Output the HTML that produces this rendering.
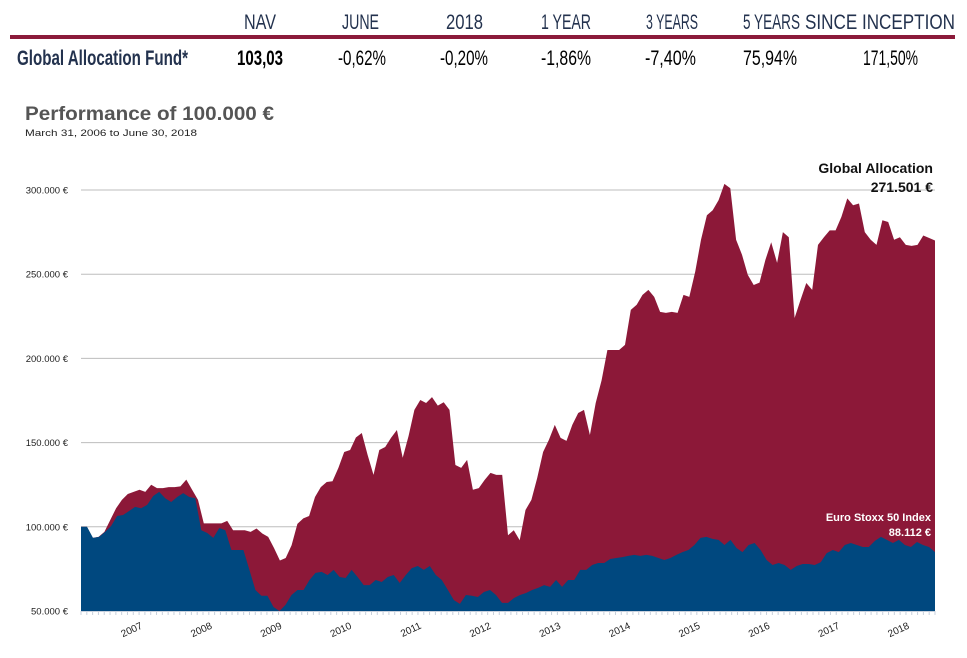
<!DOCTYPE html>
<html><head><meta charset="utf-8"><style>html,body{margin:0;padding:0;background:#fff}svg{display:block}</style></head>
<body>
<svg id="c" width="967" height="658" viewBox="0 0 967 658" xmlns="http://www.w3.org/2000/svg" font-family="'Liberation Sans', sans-serif">
<g fill="#23324e" font-size="21">
  <text x="244" y="29" textLength="32" lengthAdjust="spacingAndGlyphs">NAV</text>
  <text x="342" y="29" textLength="37" lengthAdjust="spacingAndGlyphs">JUNE</text>
  <text x="446" y="29" textLength="37" lengthAdjust="spacingAndGlyphs">2018</text>
  <text x="541" y="29" textLength="50" lengthAdjust="spacingAndGlyphs">1 YEAR</text>
  <text x="646" y="29" textLength="52" lengthAdjust="spacingAndGlyphs">3 YEARS</text>
  <text x="743" y="29" textLength="57" lengthAdjust="spacingAndGlyphs">5 YEARS</text>
  <text x="805" y="29" textLength="150" lengthAdjust="spacingAndGlyphs">SINCE INCEPTION</text>
  <rect x="10" y="35" width="945" height="4" fill="#8b1a3a"/>
  <text x="17" y="65" textLength="171" lengthAdjust="spacingAndGlyphs" font-weight="bold">Global Allocation Fund*</text>
  <text x="237" y="65" textLength="46" lengthAdjust="spacingAndGlyphs" font-weight="bold" fill="#000">103,03</text>
  <text x="338" y="65" textLength="48" lengthAdjust="spacingAndGlyphs" fill="#000">-0,62%</text>
  <text x="440" y="65" textLength="48" lengthAdjust="spacingAndGlyphs" fill="#000">-0,20%</text>
  <text x="541" y="65" textLength="50" lengthAdjust="spacingAndGlyphs" fill="#000">-1,86%</text>
  <text x="645" y="65" textLength="51" lengthAdjust="spacingAndGlyphs" fill="#000">-7,40%</text>
  <text x="743" y="65" textLength="54" lengthAdjust="spacingAndGlyphs" fill="#000">75,94%</text>
  <text x="863" y="65" textLength="55" lengthAdjust="spacingAndGlyphs" fill="#000">171,50%</text>
</g>
<text x="25" y="120" font-size="19" font-weight="bold" fill="#555" textLength="249" lengthAdjust="spacingAndGlyphs">Performance of 100.000 €</text>
<text x="25" y="136" font-size="9.5" fill="#222" textLength="172" lengthAdjust="spacingAndGlyphs">March 31, 2006 to June 30, 2018</text>
<g id="plot"></g>
<text x="933" y="173" font-size="14" font-weight="bold" fill="#111" text-anchor="end">Global Allocation</text>
<text x="933" y="192" font-size="14" font-weight="bold" fill="#111" text-anchor="end">271.501 €</text>
<text x="931" y="521" font-size="11" font-weight="bold" fill="#fff" text-anchor="end">Euro Stoxx 50 Index</text>
<text x="931" y="536" font-size="11" font-weight="bold" fill="#fff" text-anchor="end">88.112 €</text>
</svg>
<script>
const yTicks = [50, 100, 150, 200, 250, 300];
const yTickLabels = ["50.000 €","100.000 €","150.000 €","200.000 €","250.000 €","300.000 €"];
const years = [2007,2008,2009,2010,2011,2012,2013,2014,2015,2016,2017,2018];
const startYear = 2006 + 2/12, endYear = 2018 + 5/12;
const fundValues = [100,100,93.4,94,97,104,111,116,119.5,120.7,122,120.7,125,123,123,123.6,123.6,124,128,122,116,102,102,102,102,103.5,98,98,98,97,99,96,94,87.4,80,81.5,89,101.7,105,106.4,117.7,123.6,126.6,127,135,144.4,145.6,153,155.7,142.7,130.8,145.6,147.4,152.8,157.5,141,154,169.4,175.3,173.5,177,172,174,169.4,136.7,135,139.7,122,123,127.8,132,130.8,130.8,95,98,92,110,116,129,144.4,151.6,160.5,152.8,151,160.5,167.6,169.4,154.5,173.5,187,205,205,205,208,228.8,231.8,237.7,240.7,236.5,227.6,227,227.6,227,237.7,236.5,251.4,270.4,285,288,294,303.6,301,270.4,261.5,249.6,243.6,245,258.5,269,256.7,275,272,224,234.7,244.8,240.7,267.4,272,276,276,284,295,291,292,275,270.4,267.4,282,281,270.4,272,267.4,266.8,267.4,273,271.5,270];
const indexValues = [100,100,93.4,94,97,100.5,106.4,107,109.4,111.8,111,113,118.3,120.7,117,114.7,117.7,120,117.7,117,98,96.3,93.4,99.3,98,86.2,86.2,86.2,74.4,62.5,59,59,52.4,50,53.6,59.5,62.5,62.5,68.4,72.6,73.2,71.4,74.4,70.2,69.6,74.4,70.2,65.4,65.4,68.4,67.2,70.2,71.4,66.6,71.4,75.5,76.7,74.4,76.7,71.4,68.4,62.5,56.5,54.2,59.5,59,58.3,61.3,62.5,59.5,54.8,54.8,57.7,59.5,60.7,62.5,63.7,65.4,64.3,68.4,64.3,68.4,68.4,74.4,74.4,77.3,78.5,78.5,80.9,81.5,82,82.7,83.3,82.7,83.3,82.7,81.5,80.3,81.5,83.3,85,86.2,89.2,93.4,94,92.8,92.2,89.2,92.2,87.4,85,89.2,90.4,86.2,80.3,77.3,78.5,77.3,74.4,76.7,77.9,77.9,77.3,79,84.4,86.2,85,89.2,90.4,89.2,88,88,91.6,94,92.2,90.4,92.2,89.2,88,91,89.2,88,85];

const NS = "http://www.w3.org/2000/svg";
const X0 = 81, X1 = 935, Y50 = 611, Y300 = 190;
const xT = t => X0 + (t - startYear) / (endYear - startYear) * (X1 - X0);
const yV = v => Y50 - (v - 50) / 250 * (Y50 - Y300);
const plot = document.getElementById('plot');
function mk(tag, attrs){ const e=document.createElementNS(NS,tag); for(const k in attrs) e.setAttribute(k,attrs[k]); plot.appendChild(e); return e; }

yTicks.forEach((v,i)=>{
  if(v>50){
    const g = mk('line',{x1:X0,x2:X1,y1:yV(v),y2:yV(v),stroke:'#bdbdbd','stroke-width':1});
    
    
  }
  const t = mk('text',{x:68,y:yV(v)+3.5,'font-size':9.5,fill:'#222','text-anchor':'end'});
  t.textContent = yTickLabels[i];
  
  
});

function area(vals, fill, name){
  const n = vals.length;
  let d = 'M'+X0+','+Y50;
  vals.forEach((v,i)=>{ d += ' L'+xT(startYear + i/(n-1)*(endYear-startYear)).toFixed(1)+','+yV(v).toFixed(1); });
  d += ' L'+X1+','+Y50+' Z';
  const p = mk('path',{d:d,fill:fill});
  
  
}
area(fundValues, '#8c1838', 'fund-area');
area(indexValues, '#00487f', 'index-area');

const ax = mk('line',{x1:X0,x2:X1,y1:Y50+0.5,y2:Y50+0.5,stroke:'#c8d0dc','stroke-width':1});


for(let m=0; m<=147; m++){
  const x = xT(startYear + m/12);
  const tk = mk('line',{x1:x,x2:x,y1:Y50,y2:Y50+4,stroke:'#c8d0dc','stroke-width':1});
  
  
}
years.forEach(yr=>{
  const x = xT(yr) + 4, y = 628;
  const t = mk('text',{x:x,y:y,'font-size':10,fill:'#222','text-anchor':'end',transform:'rotate(-25 '+x+' '+y+')'});
  t.textContent = yr;
  
  
});
</script>
</body></html>
